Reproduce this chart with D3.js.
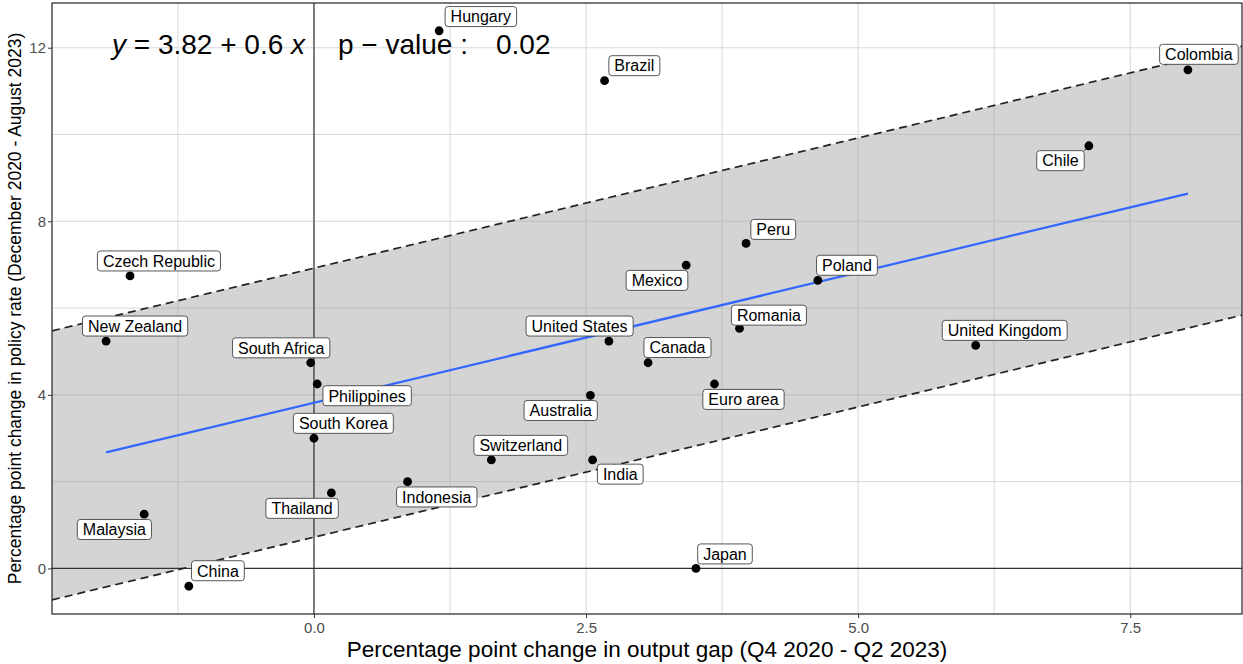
<!DOCTYPE html>
<html><head><meta charset="utf-8">
<script src="https://cdn.jsdelivr.net/npm/d3@7"></script>
<style>
body{margin:0;background:#fff}
svg{display:block}
text{font-family:"Liberation Sans", Arial, Helvetica, sans-serif}
</style>
</head><body>
<svg id="chart" width="1243" height="664"></svg>
<script>
// ---- data ----
const countries = ["Hungary","Brazil","Colombia","Chile","Peru","Mexico","Poland","Romania",
  "Czech Republic","New Zealand","United States","United Kingdom","South Africa","Canada",
  "Philippines","Australia","Euro area","South Korea","Switzerland","India","Indonesia",
  "Thailand","Malaysia","China","Japan"];
const outputGap = [1.15,2.67,8.03,7.12,3.97,3.42,4.63,3.91,
  -1.69,-1.91,2.71,6.08,-0.03,3.07,
  0.03,2.54,3.68,0.00,1.63,2.56,0.86,
  0.16,-1.56,-1.15,3.51];
const policyRate = [12.39,11.24,11.49,9.74,7.49,6.99,6.64,5.53,
  6.74,5.24,5.24,5.14,4.74,4.74,
  4.25,3.99,4.25,3.00,2.50,2.50,2.00,
  1.74,1.25,-0.41,0.00];
// label placement (pixel offsets of label centre from its point, as repelled in the reference)
const labelDx = [41.7,29.8,11,-28.4,27.2,-29.2,29.1,29.4,
  28.9,29,-29.3,29,-29.5,29.4,
  49.9,-29.7,29,29.4,29.4,27.7,29.2,
  -29.3,-29.8,29.1,29];
const labelDy = [-14.2,-15,-15.5,14.9,-14,15.3,-15,-13.3,
  -15,-15,-15,-15,-14.9,-15.2,
  11.7,15.2,15.4,-14.9,-14.6,14.2,15.3,
  15.4,15.3,-15.5,-14.5];
const segmentLabels = ["Chile"];
const intercept = 3.82, slope = 0.6, bandHalfWidth = 3.1, pValue = "0.02";
const xTicks = [0, 2.5, 5, 7.5];
const xMinor = [-1.25, 1.25, 3.75, 6.25];
const yTicks = [0, 4, 8, 12];
const yMinor = [2, 6, 10];
const xTitle = "Percentage point change in output gap (Q4 2020 - Q2 2023)";
const yTitle = "Percentage point change in policy rate (December 2020 - August 2023)";

// ---- layout ----
const W = 1243, H = 664;
const m = {left: 52, right: 1, top: 3, bottom: 50};
const pw = W - m.left - m.right, ph = H - m.top - m.bottom;

const data = countries.map((c,i)=>({name:c, x:outputGap[i], y:policyRate[i], dx:labelDx[i], dy:labelDy[i]}));

function expand(ext){ const r = ext[1]-ext[0]; return [ext[0]-0.05*r, ext[1]+0.05*r]; }
const xDom = expand(d3.extent(outputGap));
const yDom = expand(d3.extent(policyRate));
const x = d3.scaleLinear().domain(xDom).range([0, pw]);
const y = d3.scaleLinear().domain(yDom).range([ph, 0]);

const svg = d3.select("#chart");
svg.append("rect").attr("width",W).attr("height",H).attr("fill","#fff");
const g = svg.append("g").attr("transform",`translate(${m.left},${m.top})`);

const clip = svg.append("defs").append("clipPath").attr("id","pclip");
clip.append("rect").attr("width",pw).attr("height",ph);
const pg = g.append("g").attr("clip-path","url(#pclip)");

// grid
const gridCol = "#d9d9d9";
pg.selectAll(".vminor").data(xMinor).join("line")
  .attr("x1",d=>x(d)).attr("x2",d=>x(d)).attr("y1",0).attr("y2",ph)
  .attr("stroke",gridCol).attr("stroke-width",1);
pg.selectAll(".vmajor").data(xTicks).join("line")
  .attr("x1",d=>x(d)).attr("x2",d=>x(d)).attr("y1",0).attr("y2",ph)
  .attr("stroke",gridCol).attr("stroke-width",1.1);
pg.selectAll(".hminor").data(yMinor).join("line")
  .attr("y1",d=>y(d)).attr("y2",d=>y(d)).attr("x1",0).attr("x2",pw)
  .attr("stroke",gridCol).attr("stroke-width",1);
pg.selectAll(".hmajor").data(yTicks).join("line")
  .attr("y1",d=>y(d)).attr("y2",d=>y(d)).attr("x1",0).attr("x2",pw)
  .attr("stroke",gridCol).attr("stroke-width",1.1);

// band
const fit = v => intercept + slope*v;
const bandX = [xDom[0], xDom[1]];
const area = d3.area().x(d=>x(d)).y0(d=>y(fit(d)-bandHalfWidth)).y1(d=>y(fit(d)+bandHalfWidth));
pg.append("path").datum(bandX).attr("d",area).attr("fill","rgb(160,160,160)").attr("fill-opacity",0.45);

// zero lines
pg.append("line").attr("x1",x(0)).attr("x2",x(0)).attr("y1",0).attr("y2",ph).attr("stroke","#333").attr("stroke-width",1.2);
pg.append("line").attr("y1",y(0)).attr("y2",y(0)).attr("x1",0).attr("x2",pw).attr("stroke","#333").attr("stroke-width",1.2);

// dashed band edges
const lineGen = d3.line().x(d=>x(d[0])).y(d=>y(d[1]));
[bandHalfWidth, -bandHalfWidth].forEach(off=>{
  pg.append("path").datum(bandX.map(v=>[v, fit(v)+off])).attr("d",lineGen)
    .attr("fill","none").attr("stroke","#222").attr("stroke-width",1.7).attr("stroke-dasharray","8,5");
});

// regression line over data range
const dx0 = d3.extent(outputGap);
pg.append("path").datum(dx0.map(v=>[v, fit(v)])).attr("d",lineGen)
  .attr("fill","none").attr("stroke","#3366FF").attr("stroke-width",2.2);

// points
pg.selectAll(".pt").data(data).join("circle")
  .attr("cx",d=>x(d.x)).attr("cy",d=>y(d.y)).attr("r",4.4).attr("fill","#000");

// labels
const lg = g.append("g");
data.forEach(d=>{
  const px = x(d.x), py = y(d.y);
  const cx = px + d.dx, cy = py + d.dy;
  const grp = lg.append("g");
  const t = grp.append("text").attr("x",cx).attr("y",cy+5.8).attr("text-anchor","middle")
    .attr("font-size",16).attr("fill","#000").text(d.name);
  const tw = t.node().getComputedTextLength();
  const bw = tw + 11, bh = 20;
  const bx = cx - bw/2, by = cy - bh/2;
  if (segmentLabels.includes(d.name)) {
    const nx = Math.max(bx, Math.min(px, bx+bw));
    const ny = Math.max(by, Math.min(py, by+bh));
    grp.insert("line","text").attr("x1",px).attr("y1",py).attr("x2",nx).attr("y2",ny)
      .attr("stroke","#000").attr("stroke-width",1);
  }
  grp.insert("rect","text").attr("x",bx).attr("y",by).attr("width",bw).attr("height",bh)
    .attr("rx",3).attr("ry",3).attr("fill","#fff").attr("stroke","#444").attr("stroke-width",0.9);
});

// panel border
g.append("rect").attr("width",pw).attr("height",ph).attr("fill","none").attr("stroke","#222").attr("stroke-width",1.2);

// axes
const xAxis = g.append("g").attr("transform",`translate(0,${ph})`)
  .call(d3.axisBottom(x).tickValues(xTicks).tickFormat(d3.format(".1f")).tickSize(4).tickPadding(4));
const yAxis = g.append("g")
  .call(d3.axisLeft(y).tickValues(yTicks).tickFormat(d3.format("d")).tickSize(4).tickPadding(2));
[xAxis,yAxis].forEach(a=>{
  a.select(".domain").remove();
  a.selectAll(".tick line").attr("stroke","#333");
  a.selectAll(".tick text").attr("fill","#4d4d4d").attr("font-size",15)
    .attr("font-family",'"Liberation Sans", Arial, sans-serif');
});

// axis titles
svg.append("text").attr("x",m.left+pw/2).attr("y",657).attr("text-anchor","middle")
  .attr("font-size",22.5).attr("fill","#000").text(xTitle);
svg.append("text").attr("transform",`translate(21,${m.top+ph/2}) rotate(-90)`).attr("text-anchor","middle")
  .attr("font-size",17.5).attr("fill","#000").text(yTitle);

// equation annotation
const eq = svg.append("text").attr("x",112).attr("y",54).attr("font-size",28).attr("fill","#000");
eq.append("tspan").attr("font-style","italic").text("y");
eq.append("tspan").text(" = 3.82 + 0.6 ");
eq.append("tspan").attr("font-style","italic").text("x");
svg.append("text").attr("x",338).attr("y",54).attr("font-size",28).attr("fill","#000").text("p \u2212 value :");
svg.append("text").attr("x",496).attr("y",54).attr("font-size",28).attr("fill","#000").text(pValue);
</script>
</body></html>
